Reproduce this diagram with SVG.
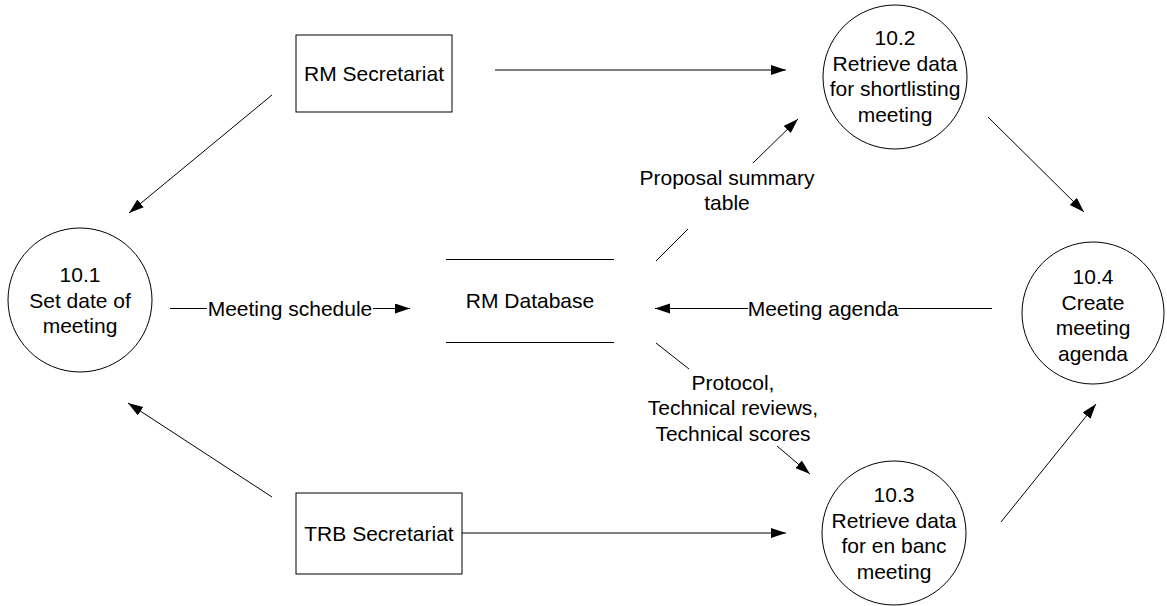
<svg xmlns="http://www.w3.org/2000/svg" width="1167" height="606" viewBox="0 0 1167 606">
  <style>
    .shape { fill: #ffffff; stroke: #000000; stroke-width: 1; }
    .line { fill: none; stroke: #000000; stroke-width: 1; }
    .node { font-family: "Liberation Sans", Arial, sans-serif; font-size: 21px; fill: #000000; text-anchor: middle; }
    .lbl { font-family: "Liberation Sans", Arial, sans-serif; font-size: 21px; fill: #000000; text-anchor: middle; }
  </style>
  <defs>
    <marker id="arrow" markerUnits="userSpaceOnUse" markerWidth="16" markerHeight="12" refX="15" refY="5" orient="auto">
      <path d="M0,0 L15,5 L0,10 z" fill="#000000"/>
    </marker>
  </defs>
  <rect width="1167" height="606" fill="#ffffff"/>

  <g id="rm-secretariat">
    <rect class="shape" x="296" y="35" width="156" height="77"/>
    <text class="node" x="374" y="80.5">RM Secretariat</text>
  </g>

  <g id="trb-secretariat">
    <rect class="shape" x="296" y="493" width="166" height="81"/>
    <text class="node" x="379" y="540.5">TRB Secretariat</text>
  </g>

  <g id="rm-database">
    <line class="line" x1="446" y1="259.5" x2="614" y2="259.5"/>
    <line class="line" x1="446" y1="342.5" x2="614" y2="342.5"/>
    <text class="node" x="530" y="307.5">RM Database</text>
  </g>

  <g id="p10-1">
    <circle class="shape" cx="80" cy="300" r="72"/>
    <text class="node" x="80" y="282">10.1</text>
    <text class="node" x="80" y="307.5">Set date of</text>
    <text class="node" x="80" y="333">meeting</text>
  </g>

  <g id="p10-2">
    <circle class="shape" cx="895" cy="77" r="72"/>
    <text class="node" x="895" y="45">10.2</text>
    <text class="node" x="895" y="70.5">Retrieve data</text>
    <text class="node" x="895" y="96">for shortlisting</text>
    <text class="node" x="895" y="121.5">meeting</text>
  </g>

  <g id="p10-3">
    <circle class="shape" cx="894" cy="533" r="72"/>
    <text class="node" x="894" y="502">10.3</text>
    <text class="node" x="894" y="527.5">Retrieve data</text>
    <text class="node" x="894" y="553">for en banc</text>
    <text class="node" x="894" y="578.5">meeting</text>
  </g>

  <g id="p10-4">
    <circle class="shape" cx="1093" cy="313" r="71"/>
    <text class="node" x="1093" y="284">10.4</text>
    <text class="node" x="1093" y="309.5">Create</text>
    <text class="node" x="1093" y="335">meeting</text>
    <text class="node" x="1093" y="360.5">agenda</text>
  </g>

  <g id="connectors">
    <line class="line" x1="495" y1="70" x2="786" y2="70" marker-end="url(#arrow)"/>
    <line class="line" x1="272" y1="95" x2="129" y2="213" marker-end="url(#arrow)"/>
    <line class="line" x1="272" y1="497" x2="128" y2="403" marker-end="url(#arrow)"/>
    <line class="line" x1="462" y1="533" x2="786" y2="533" marker-end="url(#arrow)"/>
    <line class="line" x1="988" y1="117" x2="1084" y2="212" marker-end="url(#arrow)"/>
    <line class="line" x1="1001" y1="522" x2="1096" y2="404" marker-end="url(#arrow)"/>

    <line class="line" x1="170" y1="308.5" x2="207" y2="308.5"/>
    <line class="line" x1="373" y1="308.5" x2="410" y2="308.5" marker-end="url(#arrow)"/>
    <text class="lbl" x="290" y="315.5">Meeting schedule</text>

    <line class="line" x1="992" y1="308.5" x2="898" y2="308.5"/>
    <line class="line" x1="748" y1="308.5" x2="655" y2="308.5" marker-end="url(#arrow)"/>
    <text class="lbl" x="823" y="315.5">Meeting agenda</text>

    <line class="line" x1="656" y1="261" x2="688" y2="229"/>
    <line class="line" x1="753" y1="163" x2="798" y2="119" marker-end="url(#arrow)"/>
    <text class="lbl" x="727" y="184.5">Proposal summary</text>
    <text class="lbl" x="727" y="209.5">table</text>

    <line class="line" x1="656" y1="343" x2="689" y2="369"/>
    <line class="line" x1="777" y1="446" x2="810" y2="474" marker-end="url(#arrow)"/>
    <text class="lbl" x="733" y="389.5">Protocol,</text>
    <text class="lbl" x="733" y="415">Technical reviews,</text>
    <text class="lbl" x="733" y="440.5">Technical scores</text>
  </g>
</svg>
